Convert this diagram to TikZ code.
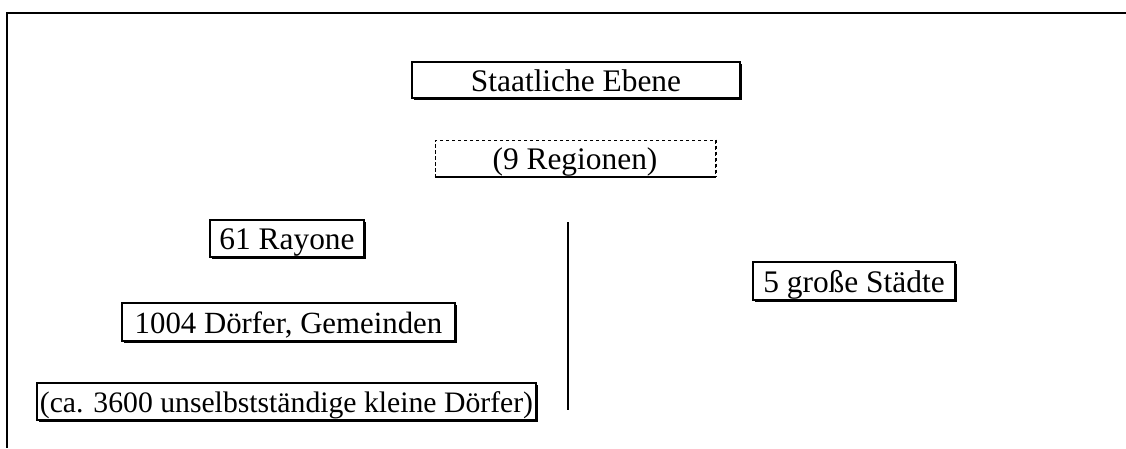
\documentclass[tikz,border=0pt]{standalone}
\usepackage{fontspec}
\setmainfont{Liberation Serif}
\usetikzlibrary{shadows}
\begin{document}
\begin{tikzpicture}[x=1pt,y=-1pt,
  lvl/.style={draw=black, line width=1.3pt, fill=white,
    font=\fontsize{31.4}{36}\selectfont, text height=22pt, text depth=0pt,
    inner sep=0pt, anchor=center,
    drop shadow={shadow xshift=2pt, shadow yshift=-2pt, fill=black, opacity=1}},
  dashlvl/.style={draw=black, line width=0.8pt, dash pattern=on 3.5pt off 2.5pt,
    font=\fontsize{31.4}{36}\selectfont, text height=22pt, text depth=0pt,
    inner sep=0pt, anchor=center},
  frame/.style={line width=2.4pt, black},
  divider/.style={line width=1.6pt, black}]
  \useasboundingbox (0,0) rectangle (1126,448);

  % outer frame (top and left edges only)
  \coordinate (ftr) at (1126,13);
  \coordinate (ftl) at (7,13);
  \coordinate (fbl) at (7,448);
  \draw[frame] (ftr) -- (ftl) -- (fbl);

  % state level
  \node[lvl, minimum width=328pt, minimum height=36pt] (staat) at (576,80) {Staatliche Ebene};
  \node[dashlvl, minimum width=280pt, minimum height=36pt] (reg) at (575,158) {(9 Regionen)};
  \draw[line width=2pt] ([yshift=-1pt]reg.south west) -- ([yshift=-1pt,xshift=1pt]reg.south east);
  \draw[line width=2pt, dash pattern=on 3.5pt off 2.5pt] ([xshift=1pt]reg.north east) -- ([xshift=1pt]reg.south east);

  % rural hierarchy
  \node[lvl, minimum width=154pt, minimum height=37pt] (ray) at (287,238.5) {61 Rayone};
  \node[lvl, minimum width=333pt, minimum height=38pt, font=\fontsize{30.8}{36}\selectfont] (dorf) at (288.5,322) {1004 Dörfer, Gemeinden};
  \node[lvl, minimum width=499pt, minimum height=37pt, font=\fontsize{29.7}{36}\selectfont] (klein) at (286.5,401.5) {(ca. 3600 unselbstständige kleine Dörfer)};

  % separator between rural and urban
  \coordinate (vtop) at (568,222);
  \coordinate (vbot) at (568,410);
  \draw[divider] (vtop) -- (vbot);

  % cities
  \node[lvl, minimum width=202pt, minimum height=38pt] (stadt) at (854,281) {5 große Städte};
\end{tikzpicture}
\end{document}
